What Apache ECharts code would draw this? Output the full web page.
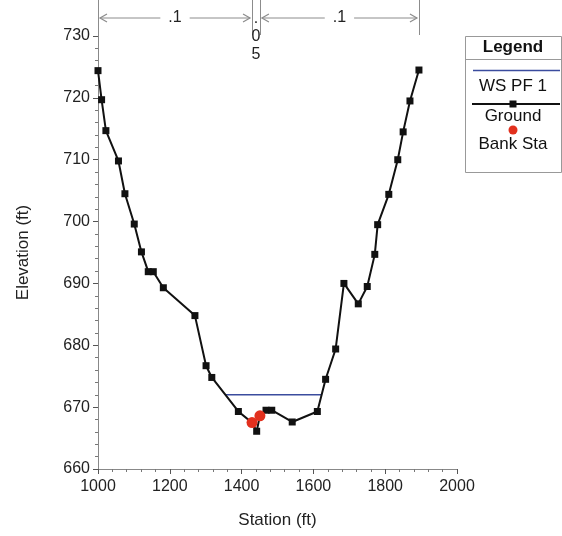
<!DOCTYPE html>
<html>
<head>
<meta charset="utf-8">
<script src="https://cdn.jsdelivr.net/npm/echarts@6/dist/echarts.min.js"></script>
<style>
  html, body { margin: 0; padding: 0; background: #fff; }
  #chart { width: 562px; height: 536px; }
</style>
</head>
<body>
<div id="chart"></div>
<script>
// Cross-section ground profile (station, elevation)
const groundStation = [1000, 1010, 1022, 1057, 1075, 1101, 1121, 1140, 1154, 1182, 1270, 1301, 1317, 1391, 1429, 1442, 1451, 1468, 1484, 1541, 1611, 1634, 1662, 1685, 1725, 1750, 1771, 1779, 1810, 1835, 1850, 1869, 1894];
const groundElev = [724.4, 719.7, 714.7, 709.8, 704.5, 699.6, 695.1, 691.9, 691.9, 689.3, 684.8, 676.7, 674.8, 669.3, 667.5, 666.1, 668.6, 669.5, 669.5, 667.6, 669.3, 674.5, 679.4, 690.0, 686.7, 689.5, 694.7, 699.5, 704.4, 710.0, 714.5, 719.5, 724.5];

// Bank stations
const bankStation = [1429, 1451];
const bankElev = [667.5, 668.6];

// Water surface, profile PF 1
const wsStation = [1356, 1622];
const wsElev = [672.0, 672.0];

// Manning's n breakpoints and values along the top
const nBreaks = [1000, 1429, 1451, 1894];
const nValues = ['.1', '.05', '.1'];

const FONT = 'Liberation Sans, Arial, sans-serif';
const ANN = '#8c8c8c';

const chart = echarts.init(document.getElementById('chart'), null, { renderer: 'canvas' });

const pairs = (xs, ys) => xs.map((x, i) => [x, ys[i]]);
const plain = v => String(v);

const option = {
  backgroundColor: '#fff',
  animation: false,
  grid: { left: 98, right: 105, top: 36, bottom: 67 },
  xAxis: {
    type: 'value', min: 1000, max: 2000, interval: 200,
    name: 'Station (ft)', nameLocation: 'middle', nameGap: 43,
    nameTextStyle: { fontFamily: FONT, fontSize: 17, color: '#222' },
    axisLine: { show: true, lineStyle: { color: '#888', width: 1 } },
    axisTick: { show: true, length: 5, lineStyle: { color: '#555' } },
    minorTick: { show: true, splitNumber: 5, length: 3, lineStyle: { color: '#777' } },
    axisLabel: { fontFamily: FONT, fontSize: 16, color: '#222', margin: 10, formatter: plain },
    splitLine: { show: false }
  },
  yAxis: {
    type: 'value', min: 660, max: 730, interval: 10,
    name: 'Elevation (ft)', nameLocation: 'middle', nameGap: 66, nameRotate: 90,
    nameTextStyle: { fontFamily: FONT, fontSize: 17, color: '#222' },
    axisLine: { show: true, lineStyle: { color: '#888', width: 1 } },
    axisTick: { show: true, length: 5, lineStyle: { color: '#555' } },
    minorTick: { show: true, splitNumber: 5, length: 3, lineStyle: { color: '#777' } },
    axisLabel: { fontFamily: FONT, fontSize: 16, color: '#222', margin: 8, formatter: plain },
    splitLine: { show: false }
  },
  series: [
    {
      name: 'WS PF 1', type: 'line', data: pairs(wsStation, wsElev),
      showSymbol: false, symbol: 'none',
      lineStyle: { color: '#3b4c9e', width: 1.5 }, z: 2
    },
    {
      name: 'Ground', type: 'line', data: pairs(groundStation, groundElev),
      symbol: 'rect', symbolSize: 7,
      itemStyle: { color: '#111' },
      lineStyle: { color: '#111', width: 2 }, z: 3
    },
    {
      name: 'Bank Sta', type: 'scatter', data: pairs(bankStation, bankElev),
      symbol: 'circle', symbolSize: 11,
      itemStyle: { color: '#e2301e', opacity: 1 }, z: 4
    }
  ]
};

chart.setOption(option);

// Annotation along the top: n-value spans and legend box
const px = s => chart.convertToPixel({ xAxisIndex: 0 }, s);
const topY = chart.convertToPixel({ yAxisIndex: 0 }, 730);
const g = [];
const arrowY = 18;

// vertical break lines
nBreaks.forEach((s, i) => {
  const x = Math.round(px(s)) + 0.5;
  g.push({ type: 'line', shape: { x1: x, y1: 0, x2: x, y2: i === 0 ? topY : 35 }, style: { stroke: ANN, lineWidth: 1 } });
});

// spans with arrows
for (let i = 0; i < nValues.length; i++) {
  const x0 = px(nBreaks[i]) + 2, x1 = px(nBreaks[i + 1]) - 2;
  const mid = (x0 + x1) / 2;
  if (x1 - x0 > 40) {
    g.push({ type: 'line', shape: { x1: x0, y1: arrowY, x2: x1, y2: arrowY }, style: { stroke: ANN, lineWidth: 1 } });
    g.push({ type: 'polyline', shape: { points: [[x0 + 7, arrowY - 4], [x0, arrowY], [x0 + 7, arrowY + 4]] }, style: { stroke: ANN, lineWidth: 1.2, fill: null } });
    g.push({ type: 'polyline', shape: { points: [[x1 - 7, arrowY - 4], [x1, arrowY], [x1 - 7, arrowY + 4]] }, style: { stroke: ANN, lineWidth: 1.2, fill: null } });
    g.push({ type: 'text', x: mid, y: arrowY, z: 10, style: { text: nValues[i], font: '16px ' + FONT, fill: '#222', align: 'center', verticalAlign: 'middle', backgroundColor: '#fff', padding: [0, 8] } });
  } else {
    g.push({ type: 'text', x: mid, y: 37, style: { text: nValues[i].split('').join('\n'), font: '16px ' + FONT, fill: '#222', align: 'center', verticalAlign: 'middle', lineHeight: 18 } });
  }
}

// legend box
const LX = 465, LY = 36, LW = 96, LH = 136, LC = LX + LW / 2;
g.push({ type: 'rect', shape: { x: LX + 0.5, y: LY + 0.5, width: LW, height: LH }, style: { fill: '#fff', stroke: '#999', lineWidth: 1 } });
g.push({ type: 'text', x: LC, y: 47, style: { text: 'Legend', font: 'bold 17px ' + FONT, fill: '#111', align: 'center', verticalAlign: 'middle' } });
g.push({ type: 'line', shape: { x1: LX, y1: 59.5, x2: LX + LW, y2: 59.5 }, style: { stroke: '#999', lineWidth: 1 } });
g.push({ type: 'line', shape: { x1: 473, y1: 70.5, x2: 560, y2: 70.5 }, style: { stroke: '#3b4c9e', lineWidth: 1.5 } });
g.push({ type: 'text', x: LC, y: 86, style: { text: 'WS PF 1', font: '17px ' + FONT, fill: '#111', align: 'center', verticalAlign: 'middle' } });
g.push({ type: 'line', shape: { x1: 472, y1: 104, x2: 560, y2: 104 }, style: { stroke: '#111', lineWidth: 2 } });
g.push({ type: 'rect', shape: { x: LC - 3.5, y: 100.5, width: 7, height: 7 }, style: { fill: '#111' } });
g.push({ type: 'text', x: LC, y: 116, style: { text: 'Ground', font: '17px ' + FONT, fill: '#111', align: 'center', verticalAlign: 'middle' } });
g.push({ type: 'circle', shape: { cx: LC, cy: 130, r: 4.5 }, style: { fill: '#e2301e' } });
g.push({ type: 'text', x: LC, y: 144, style: { text: 'Bank Sta', font: '17px ' + FONT, fill: '#111', align: 'center', verticalAlign: 'middle' } });

chart.setOption({ graphic: { elements: g } });
</script>
</body>
</html>
